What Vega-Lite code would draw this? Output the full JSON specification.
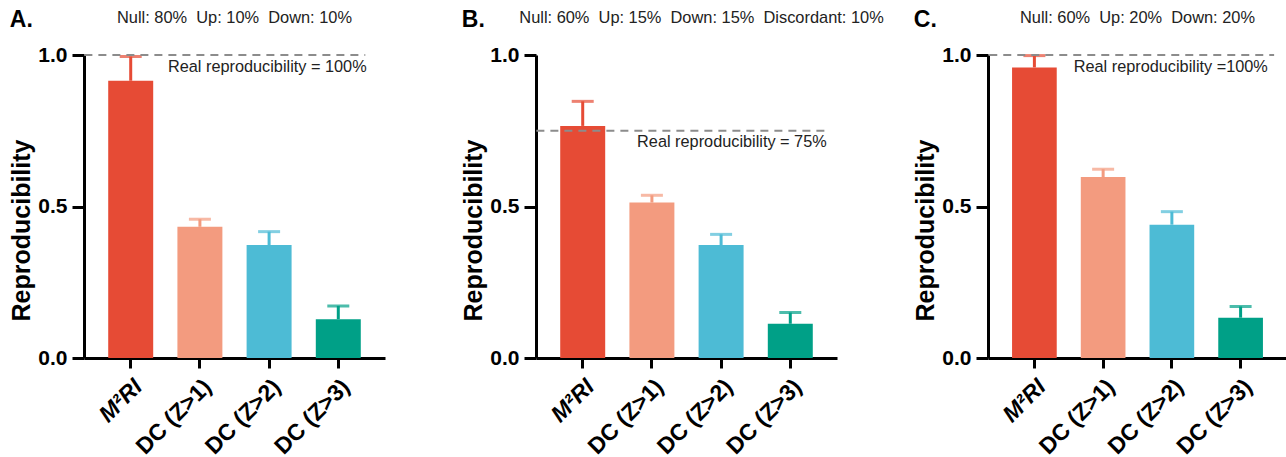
{
  "$schema": "https://vega.github.io/schema/vega-lite/v6.json",
  "padding": {"left": 9, "top": 9, "right": 2, "bottom": 2},
  "spacing": 151,
  "bounds": "flush",
  "config": {
    "view": {"stroke": null},
    "font": "Liberation Sans",
    "axis": {"grid": false, "domainColor": "#000", "tickColor": "#000", "labelColor": "#000", "titleColor": "#000", "domainWidth": 3, "tickWidth": 3, "labelFont": "Liberation Sans", "titleFont": "Liberation Sans"},
    "axisX": {"title": null, "tickSize": 10, "labelAngle": -45, "labelFontSize": 23, "labelFontWeight": "bold", "labelPadding": 7, "labelBaseline": "top",
      "labelFontStyle": {"condition": {"test": "datum.value == 'M²RI'", "value": "italic"}, "value": "normal"}},
    "axisY": {"tickSize": 12, "labelFontSize": 21, "labelFontWeight": "bold", "labelPadding": 5, "titleFontSize": 25, "titleFontWeight": "bold", "titlePadding": 3, "titleY": 175},
    "title": {"fontSize": 23, "fontWeight": "bold", "anchor": "start", "frame": "bounds", "color": "#000", "offset": -22},
    "text": {"font": "Liberation Sans", "color": "#222"}
  },
  "datasets": {
    "a": [
      {"cat": "M²RI", "value": 0.915, "upper": 0.995},
      {"cat": "DC (Z>1)", "value": 0.433, "upper": 0.458},
      {"cat": "DC (Z>2)", "value": 0.373, "upper": 0.417},
      {"cat": "DC (Z>3)", "value": 0.128, "upper": 0.172}
    ],
    "b": [
      {"cat": "M²RI", "value": 0.766, "upper": 0.847},
      {"cat": "DC (Z>1)", "value": 0.513, "upper": 0.537},
      {"cat": "DC (Z>2)", "value": 0.373, "upper": 0.408},
      {"cat": "DC (Z>3)", "value": 0.113, "upper": 0.150}
    ],
    "c": [
      {"cat": "M²RI", "value": 0.959, "upper": 0.998},
      {"cat": "DC (Z>1)", "value": 0.597, "upper": 0.623},
      {"cat": "DC (Z>2)", "value": 0.44, "upper": 0.483},
      {"cat": "DC (Z>3)", "value": 0.133, "upper": 0.170}
    ],
    "ta": [{"ref": 1, "note": "Real reproducibility = 100%", "sub": "Null: 80%\u00a0\u00a0Up: 10%\u00a0\u00a0Down: 10%"}],
    "tb": [{"ref": 0.75, "note": "Real reproducibility = 75%", "sub": "Null: 60%\u00a0\u00a0Up: 15%\u00a0\u00a0Down: 15%\u00a0\u00a0Discordant: 10%"}],
    "tc": [{"ref": 1, "note": "Real reproducibility =100%", "sub": "Null: 60%\u00a0\u00a0Up: 20%\u00a0\u00a0Down: 20%"}]
  },
  "hconcat": [
    {
      "width": 301, "height": 303,
      "title": {"text": "A."},
      "layer": [
        {"data": {"name": "a"}, "mark": {"type": "bar"},
          "encoding": {
            "x": {"field": "cat", "type": "nominal", "sort": null, "scale": {"paddingInner": 0.35, "paddingOuter": 0.35}},
            "y": {"field": "value", "type": "quantitative", "scale": {"domain": [0, 1], "nice": false}, "title": "Reproducibility", "axis": {"values": [0, 0.5, 1], "format": ".1f"}},
            "color": {"field": "cat", "type": "nominal", "scale": {"domain": ["M²RI", "DC (Z>1)", "DC (Z>2)", "DC (Z>3)"], "range": ["#E64B35", "#F39B7F", "#4DBBD5", "#00A087"]}, "legend": null}
          }},
        {"data": {"name": "a"}, "mark": {"type": "rule", "strokeWidth": 3},
          "encoding": {"x": {"field": "cat", "type": "nominal", "sort": null}, "y": {"field": "value", "type": "quantitative"}, "y2": {"field": "upper"}, "color": {"field": "cat", "type": "nominal", "legend": null}}},
        {"data": {"name": "a"}, "mark": {"type": "tick", "thickness": 3, "size": 22},
          "encoding": {"x": {"field": "cat", "type": "nominal", "sort": null}, "y": {"field": "upper", "type": "quantitative"}, "color": {"field": "cat", "type": "nominal", "legend": null}}},
        {"data": {"name": "ta"}, "mark": {"type": "rule", "strokeDash": [8, 6], "color": "#8c8c8c", "strokeWidth": 2},
          "encoding": {"y": {"field": "ref", "type": "quantitative"}, "x": {"datum": "M²RI", "bandPosition": -0.53}, "x2": {"datum": "DC (Z>3)", "bandPosition": 1.1}}},
        {"data": {"name": "ta"}, "mark": {"type": "text", "align": "right", "baseline": "alphabetic", "dy": 17, "fontSize": 16.3},
          "encoding": {"y": {"field": "ref", "type": "quantitative"}, "x": {"datum": "DC (Z>3)", "bandPosition": 1.13}, "text": {"field": "note"}}},
        {"data": {"name": "ta"}, "mark": {"type": "text", "align": "center", "baseline": "middle", "dy": -37, "fontSize": 16.4},
          "encoding": {"y": {"datum": 1}, "text": {"field": "sub"}}}
      ]
    },
    {
      "width": 301, "height": 303,
      "title": {"text": "B."},
      "layer": [
        {"data": {"name": "b"}, "mark": {"type": "bar"},
          "encoding": {
            "x": {"field": "cat", "type": "nominal", "sort": null, "scale": {"paddingInner": 0.35, "paddingOuter": 0.35}},
            "y": {"field": "value", "type": "quantitative", "scale": {"domain": [0, 1], "nice": false}, "title": "Reproducibility", "axis": {"values": [0, 0.5, 1], "format": ".1f"}},
            "color": {"field": "cat", "type": "nominal", "scale": {"domain": ["M²RI", "DC (Z>1)", "DC (Z>2)", "DC (Z>3)"], "range": ["#E64B35", "#F39B7F", "#4DBBD5", "#00A087"]}, "legend": null}
          }},
        {"data": {"name": "b"}, "mark": {"type": "rule", "strokeWidth": 3},
          "encoding": {"x": {"field": "cat", "type": "nominal", "sort": null}, "y": {"field": "value", "type": "quantitative"}, "y2": {"field": "upper"}, "color": {"field": "cat", "type": "nominal", "legend": null}}},
        {"data": {"name": "b"}, "mark": {"type": "tick", "thickness": 3, "size": 22},
          "encoding": {"x": {"field": "cat", "type": "nominal", "sort": null}, "y": {"field": "upper", "type": "quantitative"}, "color": {"field": "cat", "type": "nominal", "legend": null}}},
        {"data": {"name": "tb"}, "mark": {"type": "rule", "strokeDash": [8, 6], "color": "#8c8c8c", "strokeWidth": 2},
          "encoding": {"y": {"field": "ref", "type": "quantitative"}, "x": {"datum": "M²RI", "bandPosition": -0.53}, "x2": {"datum": "DC (Z>3)", "bandPosition": 1.27}}},
        {"data": {"name": "tb"}, "mark": {"type": "text", "align": "right", "baseline": "alphabetic", "dy": 16, "fontSize": 16.3},
          "encoding": {"y": {"field": "ref", "type": "quantitative"}, "x": {"datum": "DC (Z>3)", "bandPosition": 1.31}, "text": {"field": "note"}}},
        {"data": {"name": "tb"}, "mark": {"type": "text", "align": "center", "baseline": "middle", "dy": -37, "dx": 15, "fontSize": 16.4},
          "encoding": {"y": {"datum": 1}, "text": {"field": "sub"}}}
      ]
    },
    {
      "width": 299, "height": 303,
      "title": {"text": "C."},
      "layer": [
        {"data": {"name": "c"}, "mark": {"type": "bar"},
          "encoding": {
            "x": {"field": "cat", "type": "nominal", "sort": null, "scale": {"paddingInner": 0.35, "paddingOuter": 0.35}},
            "y": {"field": "value", "type": "quantitative", "scale": {"domain": [0, 1], "nice": false}, "title": "Reproducibility", "axis": {"values": [0, 0.5, 1], "format": ".1f"}},
            "color": {"field": "cat", "type": "nominal", "scale": {"domain": ["M²RI", "DC (Z>1)", "DC (Z>2)", "DC (Z>3)"], "range": ["#E64B35", "#F39B7F", "#4DBBD5", "#00A087"]}, "legend": null}
          }},
        {"data": {"name": "c"}, "mark": {"type": "rule", "strokeWidth": 3},
          "encoding": {"x": {"field": "cat", "type": "nominal", "sort": null}, "y": {"field": "value", "type": "quantitative"}, "y2": {"field": "upper"}, "color": {"field": "cat", "type": "nominal", "legend": null}}},
        {"data": {"name": "c"}, "mark": {"type": "tick", "thickness": 3, "size": 22},
          "encoding": {"x": {"field": "cat", "type": "nominal", "sort": null}, "y": {"field": "upper", "type": "quantitative"}, "color": {"field": "cat", "type": "nominal", "legend": null}}},
        {"data": {"name": "tc"}, "mark": {"type": "rule", "strokeDash": [8, 6], "color": "#8c8c8c", "strokeWidth": 2},
          "encoding": {"y": {"field": "ref", "type": "quantitative"}, "x": {"datum": "M²RI", "bandPosition": -0.51}, "x2": {"datum": "DC (Z>3)", "bandPosition": 1.25}}},
        {"data": {"name": "tc"}, "mark": {"type": "text", "align": "right", "baseline": "alphabetic", "dy": 17, "fontSize": 16.3},
          "encoding": {"y": {"field": "ref", "type": "quantitative"}, "x": {"datum": "DC (Z>3)", "bandPosition": 1.11}, "text": {"field": "note"}}},
        {"data": {"name": "tc"}, "mark": {"type": "text", "align": "center", "baseline": "middle", "dy": -37, "fontSize": 16.4},
          "encoding": {"y": {"datum": 1}, "text": {"field": "sub"}}}
      ]
    }
  ]
}
